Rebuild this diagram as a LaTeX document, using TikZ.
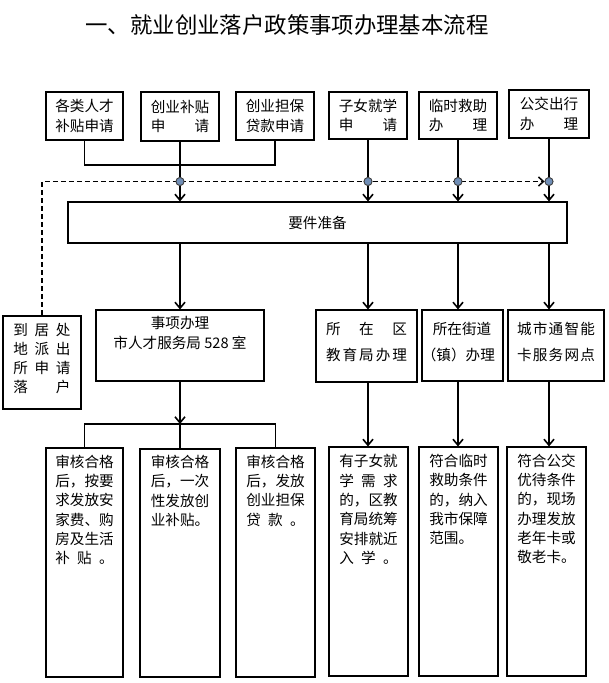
\documentclass[tikz,border=0pt]{standalone}
\usepackage{fontspec}
\setmainfont{Noto Sans CJK SC}
\usetikzlibrary{arrows.meta}
\definecolor{dotblue}{RGB}{112,142,182}
\newcommand\bodyfs{\fontsize{14.6pt}{19.3pt}\selectfont}
\newcommand\widefs{\fontsize{14.6pt}{25.7pt}\selectfont}
\tikzset{
  box/.style={draw, line width=1.1pt, inner sep=0pt, align=center, font=\bodyfs},
  txt/.style={inner sep=0pt, align=left, font=\bodyfs},
  ctxt/.style={inner sep=0pt, align=center, font=\bodyfs},
  wtxt/.style={inner sep=0pt, align=center, font=\widefs},
  conn/.style={line width=1.8pt},
  arr/.style={line width=1.8pt, -{Straight Barb[length=6pt,width=10pt,line width=1.6pt]}},
  dashconn/.style={line width=1.8pt, dash pattern=on 5pt off 3pt, -{Straight Barb[length=5pt,width=9pt,line width=1.5pt]}},
  dot/.style={circle, draw=black!75, fill=dotblue, line width=0.8pt, minimum size=8pt, inner sep=0pt},
  titlestyle/.style={inner sep=0pt, font=\fontsize{22.4pt}{26pt}\selectfont}
}
\begin{document}
\begin{tikzpicture}[x=1pt,y=-1pt]
\useasboundingbox (0,0) rectangle (609,683);
\fill[white] (0,0) rectangle (609,683);

\node[titlestyle] (title) at (287,25) {一、就业创业落户政策事项办理基本流程};

% top row
\node[box, minimum width=77pt, minimum height=48pt] (t1) at (84.5,116) {各类人才\\补贴申请};
\node[box, minimum width=78pt, minimum height=49pt] (t2) at (180,116.5) {创业补贴\\\hbox to 4em{申\hfill 请}};
\node[box, minimum width=78pt, minimum height=48pt] (t3) at (275,116) {创业担保\\贷款申请};
\node[box, minimum width=78pt, minimum height=47pt] (t4) at (368,115.5) {子女就学\\\hbox to 4em{申\hfill 请}};
\node[box, minimum width=78pt, minimum height=47pt] (t5) at (458,115.5) {临时救助\\\hbox to 4em{办\hfill 理}};
\node[box, minimum width=80pt, minimum height=48pt] (t6) at (549,114) {公交出行\\\hbox to 4em{办\hfill 理}};

% main box
\node[box, minimum width=499pt, minimum height=41pt] (m) at (317.5,222.5) {要件准备};

% dots
\node[dot] (d2) at (180,181.5) {};
\node[dot] (d4) at (368,181.5) {};
\node[dot] (d5) at (458,181.5) {};
\node[dot] (d6) at (549,181.5) {};
\coordinate (j) at (180,165);

% middle row
\node[box, line width=2.6pt, minimum width=78pt, minimum height=93pt] (lb) at (42,362.5) {};
\node[txt] (lbt) at (42,358.5) {到\hspace{6.7pt}居\hspace{6.7pt}处\\地\hspace{6.7pt}派\hspace{6.7pt}出\\所\hspace{6.7pt}申\hspace{6.7pt}请\\落\hspace{6.7pt}\hphantom{居}\hspace{6.7pt}户};
\node[box, minimum width=168pt, minimum height=71pt] (s1) at (180,345.5) {};
\node[ctxt] (s1t) at (180,333) {事项办理\\市人才服务局 528 室};
\node[box, minimum width=101pt, minimum height=72pt] (s2) at (366.5,346) {};
\node[wtxt] (s2t) at (366.5,342) {\hbox to 81pt{所\hfill 在\hfill 区}\\\hbox to 81pt{教\hfill 育\hfill 局\hfill 办\hfill 理}};
\node[box, minimum width=81pt, minimum height=71pt] (s3) at (462.5,345.5) {};
\node[wtxt] (s3t) at (462,342) {所在街道\\\kern-0.5em（镇）办理};
\node[box, minimum width=96pt, minimum height=71pt] (s4) at (556,345.5) {};
\node[wtxt] (s4t) at (556,342) {\hbox to 78pt{城\hfill 市\hfill 通\hfill 智\hfill 能}\\\hbox to 78pt{卡\hfill 服\hfill 务\hfill 网\hfill 点}};

% bottom row
\node[box, minimum width=77pt, minimum height=229pt] (b1) at (84.5,562.5) {};
\node[txt] (b1t) at (84.5,510) {审核合格\\后，按要\\求发放安\\家费、购\\房及生活\\\hbox to 4em{补\hfill 贴\hfill 。}};
\node[box, minimum width=80pt, minimum height=228pt] (b2) at (180,563) {};
\node[txt] (b2t) at (180,491) {审核合格\\后，一次\\性发放创\\业补贴。};
\node[box, minimum width=79pt, minimum height=229pt] (b3) at (275.5,562.5) {};
\node[txt] (b3t) at (275.5,490.5) {审核合格\\后，发放\\创业担保\\\hbox to 4em{贷\hfill 款\hfill 。}};
\node[box, minimum width=79pt, minimum height=229pt] (b4) at (368.5,561.5) {};
\node[txt] (b4t) at (368.5,509.5) {有子女就\\\hbox to 4em{学\hfill 需\hfill 求}\\的，区教\\育局统筹\\安排就近\\\hbox to 4em{入\hfill 学\hfill 。}};
\node[box, minimum width=79pt, minimum height=229pt] (b5) at (458.5,561.5) {};
\node[txt] (b5t) at (458.5,499.5) {符合临时\\救助条件\\的，纳入\\我市保障\\范围。};
\node[box, minimum width=79pt, minimum height=229pt] (b6) at (546.5,561.5) {};
\node[txt] (b6t) at (546.5,509) {符合公交\\优待条件\\的，现场\\办理发放\\老年卡或\\敬老卡。};

% dashed return path
\draw[dashconn] (lb.north) |- (d6.west);

% top connectors
\draw[conn] (t1.south) |- (j) -| (t3.south);
\draw[conn] (t2.south) -- (d2);
\draw[conn] (t4.south) -- (d4);
\draw[conn] (t5.south) -- (d5);
\draw[conn] (t6.south) -- (d6);
\draw[arr] (d2) -- (d2 |- m.north);
\draw[arr] (d4) -- (d4 |- m.north);
\draw[arr] (d5) -- (d5 |- m.north);
\draw[arr] (d6) -- (d6 |- m.north);

% main to middle
\draw[arr] (d2 |- m.south) -- (d2 |- s1.north);
\draw[arr] (d4 |- m.south) -- (d4 |- s2.north);
\draw[arr] (d5 |- m.south) -- (d5 |- s3.north);
\draw[arr] (d6 |- m.south) -- (d6 |- s4.north);

% middle to bottom
\coordinate (k) at (180,424);
\draw[arr] (s1.south) -- (k);
\draw[conn] (b1.north) |- (k) -| (b3.north);
\draw[conn] (k) -- (b2.north);
\draw[arr] (d4 |- s2.south) -- (d4 |- b4.north);
\draw[arr] (d5 |- s3.south) -- (d5 |- b5.north);
\draw[arr] (d6 |- s4.south) -- (d6 |- b6.north);

% dots on top
\node[dot] at (d2) {};
\node[dot] at (d4) {};
\node[dot] at (d5) {};
\node[dot] at (d6) {};
\end{tikzpicture}
\end{document}
